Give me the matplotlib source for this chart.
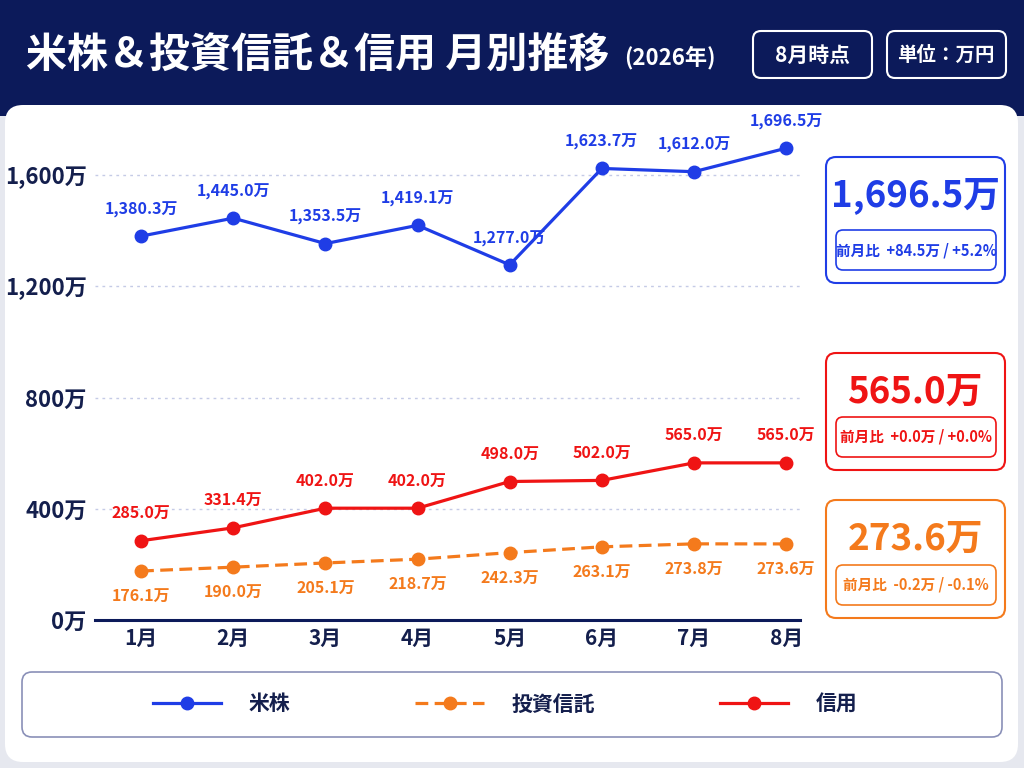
import matplotlib.pyplot as plt
from matplotlib.patches import FancyBboxPatch, Rectangle
import numpy as np

plt.rcParams['font.family'] = ['Noto Sans CJK JP', 'DejaVu Sans']

# データ（単位：万円）
months = ['1月', '2月', '3月', '4月', '5月', '6月', '7月', '8月']
beikabu = [1380.3, 1445.0, 1353.5, 1419.1, 1277.0, 1623.7, 1612.0, 1696.5]
toushin = [176.1, 190.0, 205.1, 218.7, 242.3, 263.1, 273.8, 273.6]
shinyo = [285.0, 331.4, 402.0, 402.0, 498.0, 502.0, 565.0, 565.0]
yticks = [0, 400, 800, 1200, 1600]

NAVY = '#0c1a5a'
TEXT = '#141f4d'
BLUE = '#1f3de6'
ORANGE = '#f47a1c'
RED = '#ef1414'

W, H = 1024, 768
fig = plt.figure(figsize=(W / 100, H / 100), dpi=100)
fig.patch.set_facecolor('#e6e8ef')

# 背景用の軸（ピクセル座標）
bg = fig.add_axes([0, 0, 1, 1])
bg.set_xlim(0, W)
bg.set_ylim(H, 0)
bg.axis('off')
bg.set_zorder(0)


def rbox(x0, y0, x1, y1, r, fc, ec, lw=1.5, z=1):
    p = FancyBboxPatch((x0 + r, y0 + r), x1 - x0 - 2 * r, y1 - y0 - 2 * r,
                       boxstyle='round,pad=%d' % r, fc=fc, ec=ec, lw=lw, zorder=z)
    bg.add_patch(p)


# ヘッダー
bg.add_patch(Rectangle((0, 0), W, 116, fc=NAVY, ec='none', zorder=1))
bg.text(26, 56, '米株＆投資信託＆信用 月別推移', color='white', fontsize=29.5,
        fontweight='bold', va='center', ha='left', zorder=3)
bg.text(624, 58, '(2026年)', color='white', fontsize=16, fontweight='bold',
        va='center', ha='left', zorder=3)
rbox(753, 31, 872, 78, 8, 'none', 'white', 1.5, 3)
bg.text(812, 55, '8月時点', color='white', fontsize=15, fontweight='bold',
        va='center', ha='center', zorder=3)
rbox(887, 31, 1006, 78, 8, 'none', 'white', 1.5, 3)
bg.text(946, 55, '単位：万円', color='white', fontsize=14, fontweight='bold',
        va='center', ha='center', zorder=3)

# 白いカード
rbox(5, 105, 1018, 762, 18, 'white', 'none', 0, 2)

# 右側のサマリーボックス
cards = [
    (157, 283, BLUE, '1,696.5万', '前月比  +84.5万 / +5.2%'),
    (353, 470, RED, '565.0万', '前月比  +0.0万 / +0.0%'),
    (500, 618, ORANGE, '273.6万', '前月比  -0.2万 / -0.1%'),
]
for y0, y1, col, big, small in cards:
    rbox(826, y0, 1005, y1, 10, 'white', col, 1.5, 3)
    bg.text(915, y0 + 39, big, color=col, fontsize=26.5, fontweight='bold',
            ha='center', va='center', zorder=4)
    rbox(836, y1 - 53, 996, y1 - 13, 7, 'white', col, 1.2, 4)
    bg.text(916, y1 - 33, small, color=col, fontsize=10.5, fontweight='bold',
            ha='center', va='center', zorder=5)

# 凡例ボックス
rbox(22, 672, 1002, 737, 10, 'white', '#8a90b8', 1.2, 3)

# グラフ本体
ax = fig.add_axes([95 / W, (H - 620) / H, (800 - 95) / W, (620 - 140) / H])
ax.set_zorder(5)
ax.patch.set_alpha(0)
x = np.arange(len(months))

ax.plot(x, beikabu, color=BLUE, lw=2.3, marker='o', ms=9, label='米株', zorder=4)
ax.plot(x, toushin, color=ORANGE, lw=2.3, ls=(0, (4, 2)), marker='o', ms=9,
        label='投資信託', zorder=4)
ax.plot(x, shinyo, color=RED, lw=2.3, marker='o', ms=9, label='信用', zorder=4)

for i in range(len(months)):
    ax.annotate('{:,.1f}万'.format(beikabu[i]), (x[i], beikabu[i]), xytext=(0, 19),
                textcoords='offset points', ha='center', va='center', color=BLUE,
                fontsize=11.5, fontweight='bold', annotation_clip=False)
    ax.annotate('{:,.1f}万'.format(shinyo[i]), (x[i], shinyo[i]), xytext=(0, 20),
                textcoords='offset points', ha='center', va='center', color=RED,
                fontsize=11.5, fontweight='bold', annotation_clip=False)
    ax.annotate('{:,.1f}万'.format(toushin[i]), (x[i], toushin[i]), xytext=(0, -18),
                textcoords='offset points', ha='center', va='center', color=ORANGE,
                fontsize=11.5, fontweight='bold', annotation_clip=False)

ax.set_xlim(-0.5, 7.15)
ax.set_ylim(0, 1726)
ax.set_xticks(x)
ax.set_xticklabels(months, fontsize=15, fontweight='bold', color=TEXT)
ax.set_yticks(yticks)
ax.set_yticklabels(['{:,}万'.format(v) for v in yticks], fontsize=16,
                   fontweight='bold', color=TEXT)
ax.tick_params(length=0, pad=6)
ax.grid(axis='y', color='#c5cbe6', ls=(0, (2, 3)), lw=1)
for s in ['top', 'right', 'left']:
    ax.spines[s].set_visible(False)
ax.spines['bottom'].set_color(NAVY)
ax.spines['bottom'].set_linewidth(2.2)

leg = ax.legend(loc='center', bbox_to_anchor=(505 / W, (H - 704) / H),
                bbox_transform=fig.transFigure, ncol=3, frameon=False,
                handlelength=3.3, columnspacing=6, handletextpad=1.3,
                prop={'size': 15, 'weight': 'bold'})
for t in leg.get_texts():
    t.set_color(TEXT)

fig.savefig('out.png', dpi=100, facecolor=fig.get_facecolor())
